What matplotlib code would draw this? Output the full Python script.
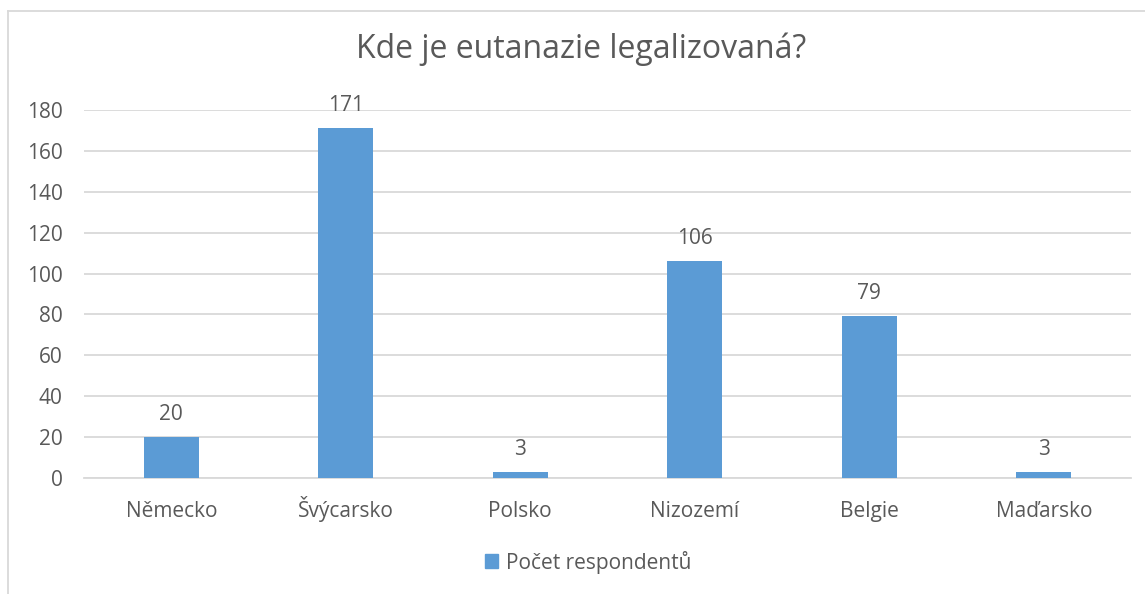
import matplotlib
matplotlib.use('Agg')
import matplotlib.pyplot as plt
from matplotlib.lines import Line2D
from matplotlib.patches import Patch

countries = ['Německo', 'Švýcarsko', 'Polsko', 'Nizozemí', 'Belgie', 'Maďarsko']
respondents = [20, 171, 3, 106, 79, 3]
yticks = [0, 20, 40, 60, 80, 100, 120, 140, 160, 180]

plt.rcParams['font.family'] = ['Open Sans', 'DejaVu Sans']
txt = '#595959'
grid = '#D9D9D9'
blue = '#5B9BD5'

fig = plt.figure(figsize=(11.45, 5.94), dpi=100)
ax = fig.add_axes([84/1145, 1-478/594, (1131-84)/1145, (478-110)/594])

x = list(range(len(countries)))
ax.bar(x, respondents, width=0.315, color=blue, label='Počet respondentů', zorder=3)

for xi, v in zip(x, respondents):
    ax.annotate(str(v), (xi, v), xytext=(0, 12.5), textcoords='offset points',
                ha='center', va='baseline', fontsize=15, color=txt)

ax.set_xlim(-0.5, len(countries) - 0.5)
ax.set_ylim(0, 180)
ax.set_yticks(yticks)
ax.set_xticks(x)
ax.set_xticklabels(countries, va='baseline')
ax.yaxis.grid(True, color=grid, linewidth=1.3, zorder=0)
ax.tick_params(axis='both', length=0, labelsize=15, labelcolor=txt)
ax.tick_params(axis='y', pad=15.5)
ax.tick_params(axis='x', pad=28)
for s in ['top', 'right', 'left']:
    ax.spines[s].set_visible(False)
ax.spines['bottom'].set_color(grid)
ax.spines['bottom'].set_linewidth(1.3)

fig.text(581/1145, 1-58/594, 'Kde je eutanazie legalizovaná?', ha='center', va='baseline',
         fontsize=23, color=txt)

fig.legend(handles=[Patch(color=blue, label='Počet respondentů')], loc='center',
           bbox_to_anchor=(588/1145, 1-562/594), frameon=False, fontsize=15,
           labelcolor=txt, handlelength=0.63, handleheight=0.63, handletextpad=0.35)

# chart border (only left and top visible in the crop)
fig.add_artist(Line2D([8/1145, 8/1145], [0, 1-11/594], color=grid, linewidth=1.3))
fig.add_artist(Line2D([8/1145, 1], [1-11/594, 1-11/594], color=grid, linewidth=1.3))

fig.savefig('out.png', dpi=100)
